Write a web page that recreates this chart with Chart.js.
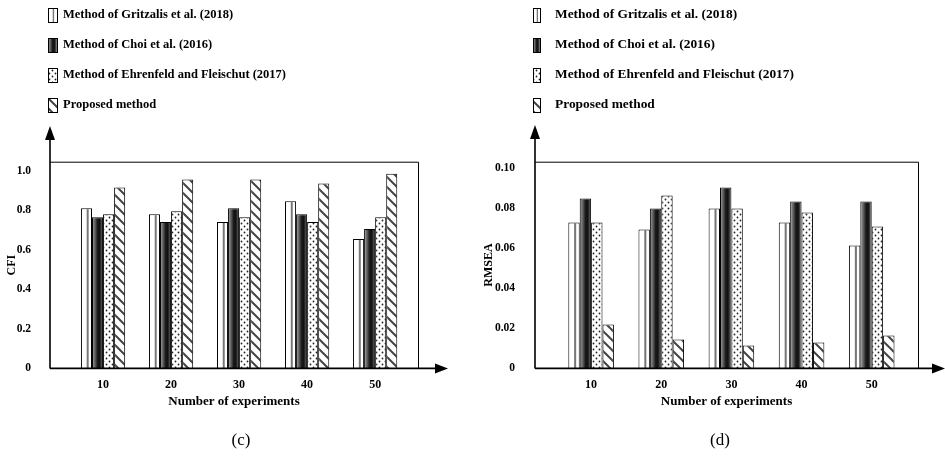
<!DOCTYPE html>
<html>
<head>
<meta charset="utf-8">
<script src="https://cdn.jsdelivr.net/npm/chart.js@4.4.0/dist/chart.umd.min.js"></script>
<style>
  html, body { margin: 0; padding: 0; background: #fff; }
  #wrap { position: relative; width: 945px; height: 458px; overflow: hidden; }
  .box { position: absolute; top: 0; height: 458px; }
</style>
</head>
<body>
<div id="wrap">
  <div class="box" style="left:0;width:472px"><canvas id="cfi" width="472" height="458"></canvas></div>
  <div class="box" style="left:472px;width:473px"><canvas id="rmsea" width="473" height="458"></canvas></div>
</div>
<script>
// data
const categories = [10, 20, 30, 40, 50];
const methodNames = [
  'Method of Gritzalis et al. (2018)',
  'Method of Choi et al. (2016)',
  'Method of Ehrenfeld and Fleischut (2017)',
  'Proposed method'
];

const cfiGritzalis = [0.81, 0.78, 0.74, 0.845, 0.655];
const cfiChoi = [0.765, 0.74, 0.81, 0.78, 0.705];
const cfiEhrenfeld = [0.78, 0.795, 0.765, 0.74, 0.765];
const cfiProposed = [0.915, 0.955, 0.955, 0.935, 0.985];
const cfiTicks = [0, 0.2, 0.4, 0.6, 0.8, 1.0];

const rmseaGritzalis = [0.073, 0.0695, 0.080, 0.073, 0.0615];
const rmseaChoi = [0.085, 0.080, 0.0905, 0.0835, 0.0835];
const rmseaEhrenfeld = [0.073, 0.0865, 0.080, 0.078, 0.071];
const rmseaProposed = [0.022, 0.0145, 0.0115, 0.013, 0.0165];
const rmseaTicks = [0, 0.02, 0.04, 0.06, 0.08, 0.10];

const CAT_PCT = 0.65;
const FONT = '"Liberation Serif", "Times New Roman", serif';

// fills
function makeDots() {
  const c = document.createElement('canvas');
  c.width = 6; c.height = 6;
  const g = c.getContext('2d');
  g.fillStyle = '#fff';
  g.fillRect(0, 0, 6, 6);
  g.fillStyle = '#222';
  g.beginPath(); g.arc(1.5, 1.5, 0.9, 0, Math.PI * 2); g.fill();
  g.beginPath(); g.arc(4.5, 4.5, 0.9, 0, Math.PI * 2); g.fill();
  return c;
}
function makeHatch() {
  const s = 10;
  const c = document.createElement('canvas');
  c.width = s; c.height = s;
  const g = c.getContext('2d');
  g.fillStyle = '#fff';
  g.fillRect(0, 0, s, s);
  g.strokeStyle = '#444';
  g.lineWidth = 2;
  g.beginPath();
  g.moveTo(-2, -2); g.lineTo(s + 2, s + 2);
  g.moveTo(-2, s - 2); g.lineTo(2, s + 2);
  g.moveTo(s - 2, -2); g.lineTo(s + 2, 2);
  g.stroke();
  return c;
}
const tmpCtx = document.createElement('canvas').getContext('2d');
const dotPattern = tmpCtx.createPattern(makeDots(), 'repeat');
const hatchPattern = tmpCtx.createPattern(makeHatch(), 'repeat');

function stripeFill(g, x0, w) {
  const gr = g.createLinearGradient(x0, 0, x0 + w, 0);
  gr.addColorStop(0, '#fff');
  gr.addColorStop(0.48, '#fff');
  gr.addColorStop(0.55, '#777');
  gr.addColorStop(0.66, '#777');
  gr.addColorStop(0.73, '#fff');
  gr.addColorStop(1, '#fff');
  return gr;
}
function cylinderFill(g, x0, w) {
  const gr = g.createLinearGradient(x0, 0, x0 + w, 0);
  gr.addColorStop(0, '#a0a0a0');
  gr.addColorStop(0.25, '#666');
  gr.addColorStop(0.5, '#1a1a1a');
  gr.addColorStop(0.7, '#111');
  gr.addColorStop(0.85, '#444');
  gr.addColorStop(1, '#8a8a8a');
  return gr;
}
function swatchFill(g, i, x0, w) {
  if (i === 2) return dotPattern;
  if (i === 3) return hatchPattern;
  if (!isFinite(x0) || !isFinite(w) || w <= 0) return i === 0 ? '#fff' : '#333';
  return i === 0 ? stripeFill(g, x0, w) : cylinderFill(g, x0, w);
}

function barFill(i) {
  return (ctx) => {
    if (i >= 2) return swatchFill(null, i);
    const chart = ctx.chart;
    const xs = chart.scales && chart.scales.x;
    if (!xs || ctx.dataIndex === undefined) return i === 0 ? '#fff' : '#333';
    const step = xs.getPixelForValue(categories[1]) - xs.getPixelForValue(categories[0]);
    const size = step * CAT_PCT;
    const w = size / 4;
    const left = xs.getPixelForValue(categories[ctx.dataIndex]) - size / 2 + w * i;
    return swatchFill(chart.ctx, i, left, w);
  };
}

const framePlugin = {
  id: 'frame',
  afterDraw(chart, args, o) {
    const g = chart.ctx;
    const { left, right, top, bottom } = chart.chartArea;
    g.save();
    g.strokeStyle = '#000';
    g.fillStyle = '#000';
    g.lineWidth = 1;
    g.beginPath();
    g.moveTo(left, top + 0.5);
    g.lineTo(right + 0.5, top + 0.5);
    g.lineTo(right + 0.5, bottom);
    g.stroke();

    // axes with arrows
    g.lineWidth = 1.6;
    g.beginPath();
    g.moveTo(left, bottom);
    g.lineTo(left, o.arrowTop + 12);
    g.moveTo(left, bottom);
    g.lineTo(right + o.arrowRight - 12, bottom);
    g.stroke();
    g.beginPath();
    g.moveTo(left, o.arrowTop);
    g.lineTo(left - 5, o.arrowTop + 14);
    g.lineTo(left + 5, o.arrowTop + 14);
    g.closePath();
    g.fill();
    g.beginPath();
    g.moveTo(right + o.arrowRight, bottom);
    g.lineTo(right + o.arrowRight - 13, bottom - 5);
    g.lineTo(right + o.arrowRight - 13, bottom + 5);
    g.closePath();
    g.fill();

    // legend
    g.font = 'bold ' + o.legendSize + 'px ' + FONT;
    g.textBaseline = 'middle';
    g.textAlign = 'left';
    methodNames.forEach((name, i) => {
      const cy = o.legendTop + i * 30;
      g.fillStyle = swatchFill(g, i, o.boxX, o.boxW);
      g.fillRect(o.boxX, cy - 7, o.boxW, 14);
      g.lineWidth = 1;
      g.strokeRect(o.boxX + 0.5, cy - 7 + 0.5, o.boxW, 14);
      g.fillStyle = '#000';
      g.fillText(name, o.textX, cy);
    });

    // caption
    g.font = '17px ' + FONT;
    g.textAlign = 'center';
    g.fillText(o.caption, o.captionX, 441);
    g.restore();
  }
};

function makeChart(id, series, yTicks, yMax, yTitle, fmt, cfg) {
  const tickFont = { family: FONT, weight: 'bold', size: 11.5 };
  return new Chart(document.getElementById(id), {
    type: 'bar',
    data: {
      labels: categories,
      datasets: series.map((values, i) => ({
        label: methodNames[i],
        data: values,
        backgroundColor: barFill(i),
        borderColor: '#000',
        borderWidth: 1,
        categoryPercentage: CAT_PCT,
        barPercentage: 1
      }))
    },
    options: {
      responsive: false,
      animation: false,
      layout: { padding: { left: 0, top: 161.7, right: cfg.padRight, bottom: 458 - 368.4 - 45 } },
      plugins: {
        legend: { display: false },
        tooltip: { enabled: false },
        frame: cfg.frame
      },
      scales: {
        x: {
          type: 'linear',
          min: cfg.xMin,
          max: cfg.xMax,
          offset: false,
          grid: { display: false },
          border: { display: false },
          afterFit: (s) => { s.height = 45; },
          afterBuildTicks: (s) => { s.ticks = categories.map(v => ({ value: v })); },
          ticks: { padding: 1, color: '#000', font: { family: FONT, weight: 'bold', size: 12 }, maxRotation: 0, autoSkip: false },
          title: {
            display: true,
            text: 'Number of experiments',
            color: '#000',
            font: { family: FONT, weight: 'bold', size: 13 },
            padding: { top: 0, bottom: 4 }
          }
        },
        y: {
          min: 0,
          max: yMax,
          grid: { display: false },
          border: { display: false },
          afterFit: (s) => { s.width = cfg.yWidth; },
          afterBuildTicks: (s) => { s.ticks = yTicks.map(v => ({ value: v })); },
          ticks: { padding: cfg.tickPad, color: '#000', font: tickFont, callback: fmt },
          title: {
            display: true,
            text: yTitle,
            color: '#000',
            font: { family: FONT, weight: 'bold', size: 12 },
            padding: { top: cfg.titlePad, bottom: 0 }
          }
        }
      }
    },
    plugins: [framePlugin]
  });
}

makeChart('cfi',
  [cfiGritzalis, cfiChoi, cfiEhrenfeld, cfiProposed],
  cfiTicks, 1.0455, 'CFI',
  (v) => v === 0 ? '0' : v.toFixed(1),
  {
    padRight: 54, xMin: 2.2, xMax: 56.3, yWidth: 50, tickPad: 11, titlePad: 5,
    frame: { arrowTop: 126, arrowRight: 30, boxX: 48, boxW: 9, textX: 63, legendTop: 15, legendSize: 12.5, caption: '(c)', captionX: 241 }
  });

makeChart('rmsea',
  [rmseaGritzalis, rmseaChoi, rmseaEhrenfeld, rmseaProposed],
  rmseaTicks, 0.1034, 'RMSEA',
  (v) => v === 0 ? '0' : v.toFixed(2),
  {
    padRight: 27, xMin: 2.0, xMax: 56.6, yWidth: 63, tickPad: 12, titlePad: 10,
    frame: { arrowTop: 125, arrowRight: 27, boxX: 61, boxW: 7, textX: 83, legendTop: 15, legendSize: 13.4, caption: '(d)', captionX: 248 }
  });
</script>
</body>
</html>
